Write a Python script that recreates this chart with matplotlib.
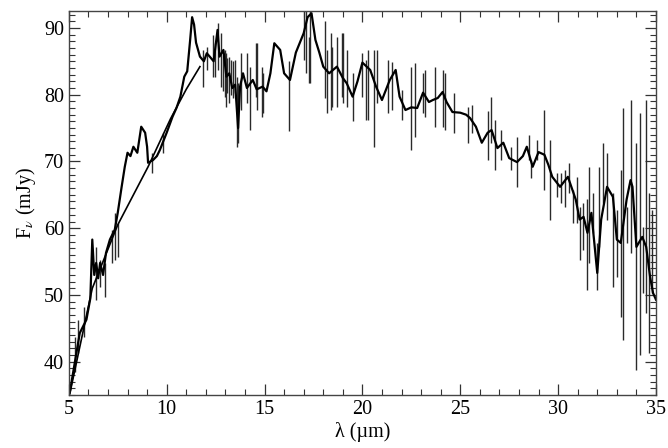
import matplotlib
matplotlib.use("Agg")
import matplotlib.pyplot as plt
from matplotlib.ticker import MultipleLocator

# spectrum: wavelength (um) and flux (mJy)
wl = [5.05, 5.3, 5.56, 5.9, 6.1, 6.2, 6.3, 6.4, 6.5, 6.6, 6.75, 6.9, 7.1, 7.35, 7.5,
      7.7, 7.86, 8.0, 8.15, 8.3, 8.5, 8.7, 8.9, 9.0, 9.05, 9.3, 9.5, 9.65, 9.8, 10.0,
      10.3, 10.5, 10.7, 10.9, 11.05, 11.2, 11.3, 11.4, 11.5, 11.7, 11.9, 12.05, 12.2,
      12.4, 12.6, 12.7, 12.9, 13.05, 13.2, 13.35, 13.5, 13.65, 13.75, 13.9, 14.1, 14.4,
      14.6, 14.9, 15.1, 15.3, 15.5, 15.8, 16.0, 16.3, 16.6, 17.0, 17.2, 17.4, 17.6,
      17.8, 18.0, 18.3, 18.7, 19.0, 19.2, 19.5, 19.75, 20.0, 20.4, 20.7, 21.0, 21.4,
      21.7, 21.9, 22.2, 22.5, 22.8, 23.1, 23.4, 23.6, 23.85, 24.1, 24.3, 24.6, 25.0,
      25.3, 25.5, 25.8, 26.1, 26.4, 26.6, 26.9, 27.2, 27.5, 27.9, 28.2, 28.4, 28.7,
      29.0, 29.3, 29.5, 29.7, 30.1, 30.5, 30.9, 31.1, 31.3, 31.5, 31.7, 32.0, 32.2,
      32.5, 32.8, 33.0, 33.2, 33.5, 33.7, 33.8, 34.0, 34.3, 34.5, 34.7, 34.85, 35.0]
flux = [35.4, 39.8, 44.3, 46.3, 49.5, 58.3, 53.0, 54.8, 52.5, 54.8, 53.0, 56.3, 58.3, 59.8, 62.3,
        66.2, 69.2, 71.3, 70.8, 72.2, 71.3, 75.2, 74.3, 72.2, 69.8, 70.2, 70.8, 71.7, 72.8, 74.3,
        76.7, 78.0, 79.7, 82.7, 83.5, 88.2, 91.6, 90.5, 87.8, 85.7, 85.0, 86.2, 85.7,
        85.0, 89.7, 85.7, 86.7, 82.7, 83.2, 81.0, 81.5, 75.0, 81.2, 83.2, 81.0, 82.2,
        80.8, 81.2, 80.5, 83.2, 87.7, 86.7, 83.2, 82.2, 86.3, 89.2, 91.6, 92.2, 88.2,
        86.3, 84.2, 83.2, 84.2, 82.5, 81.7, 79.7, 82.0, 84.8, 83.7, 81.2, 79.2, 82.2,
        83.7, 79.7, 77.7, 78.1, 78.0, 80.3, 78.9, 79.2, 79.5, 80.4, 78.9, 77.4, 77.3,
        77.0, 76.5, 75.2, 72.8, 74.3, 74.7, 72.0, 72.8, 70.5, 69.9, 70.8, 72.2, 69.2,
        71.4, 71.0, 69.5, 67.7, 66.2, 67.7, 64.3, 61.3, 61.7, 59.3, 62.3, 53.3, 61.3,
        66.2, 64.7, 58.3, 57.8, 64.3, 67.2, 66.2, 57.2, 58.7, 57.2, 52.7, 50.3, 49.3]

# error bars: wavelength, lower and upper flux
bar_wl = [5.3, 5.46, 5.8, 6.4, 6.6, 6.85, 7.2, 7.35, 7.5, 9.24, 9.8, 11.85, 12.05, 12.35,
          12.46, 12.6, 12.8, 12.9, 13.0, 13.05, 13.1, 13.2, 13.3, 13.4, 13.5, 13.6, 13.65,
          13.8, 14.1, 14.25, 14.55,
          14.6, 14.85, 14.9, 16.25, 17.0, 17.1, 17.25, 17.3, 18.1, 18.2, 18.4, 18.45,
          18.7, 18.95, 19.0, 19.2, 19.5, 20.0, 20.2, 20.3, 20.6, 20.75, 21.3, 21.5, 22.0,
          22.5, 22.7, 23.1, 23.2, 23.7, 24.1, 24.2, 24.7, 25.4, 25.6, 26.4, 26.55, 26.8,
          27.1, 27.6, 27.9, 28.5, 28.6, 28.9, 29.3, 29.6, 29.95, 30.15, 30.35, 30.55,
          30.75, 30.95, 31.1, 31.25, 31.5, 31.6, 31.8, 32.0, 32.1, 32.3, 32.5, 32.8,
          33.0, 33.2, 33.3, 33.5, 33.7, 34.0, 34.2, 34.35, 34.5, 34.65, 34.8]
bar_lo = [38.4, 41.3, 43.7, 49.3, 51.2, 49.7, 54.8, 55.3, 55.7, 68.3, 71.3, 81.2, 83.7, 82.7,
          82.7, 83.7, 81.2, 80.5, 79.7, 78.2, 80.3, 78.8, 80.0, 79.5, 80.3, 72.2, 72.8,
          77.7, 78.8, 74.7, 79.7,
          77.7, 76.7, 77.3, 74.5, 85.2, 83.2, 81.8, 81.8, 79.5, 77.3, 77.7, 78.2,
          78.2, 79.7, 78.8, 78.2, 76.0, 79.7, 76.2, 76.2, 72.2, 78.8, 77.3, 77.7, 76.2,
          71.7, 73.7, 77.3, 76.7, 75.2, 75.2, 74.7, 74.3, 72.8, 74.3, 70.2, 72.8, 68.7,
          70.2, 68.7, 66.2, 70.2, 67.5, 70.2, 65.7, 61.3, 64.7, 63.8, 63.2, 65.3,
          60.8, 60.8, 55.3, 56.8, 50.8, 54.8, 59.3, 50.8, 57.2, 63.8, 61.3, 51.2,
          52.7, 46.7, 43.3, 57.8, 56.3, 38.8, 41.0, 50.3, 47.3, 41.3, 50.3]
bar_hi = [43.7, 46.3, 48.2, 57.2, 55.3, 54.8, 59.8, 62.3, 60.8, 71.3, 74.3, 86.7, 87.2, 89.0,
          87.8, 90.7, 89.2, 86.0, 86.7, 86.3, 85.5, 85.7, 85.2, 85.0, 85.2, 82.7, 81.8,
          86.3, 86.3, 84.2, 87.8,
          87.8, 84.2, 83.2, 85.0, 92.7, 92.7, 88.7, 92.7, 91.0, 86.7, 89.2, 87.2,
          88.7, 89.2, 89.2, 86.7, 83.2, 86.3, 85.2, 86.7, 86.7, 86.7, 85.2, 84.9, 80.7,
          84.2, 84.8, 83.2, 83.7, 84.2, 83.7, 83.2, 80.3, 78.2, 78.5, 77.6, 79.7, 76.2,
          74.7, 72.2, 73.7, 74.0, 70.2, 73.2, 77.7, 73.2, 68.3, 68.3, 68.7, 69.8,
          65.7, 67.7, 63.2, 63.8, 64.3, 69.2, 65.3, 57.8, 69.2, 72.8, 71.3, 65.3,
          62.8, 68.7, 78.0, 63.2, 79.2, 72.8, 77.3, 60.2, 79.2, 65.3, 62.8]

# smooth continuum under the 5-12 um part
cont_wl = [5.05, 6.2, 7.5, 9.05, 10.2, 11.0, 11.7]
cont_flux = [35.2, 51.0, 60.5, 69.2, 76.4, 80.8, 84.2]

plt.rcParams['font.family'] = ['Liberation Serif', 'DejaVu Serif']
plt.rcParams['mathtext.fontset'] = 'stix'

fig = plt.figure(figsize=(6.68, 4.48), dpi=100)
ax = fig.add_axes([0.103, 0.118, 0.879, 0.857])

ax.vlines(bar_wl, bar_lo, bar_hi, color='#2a2a2a', lw=1.0)
ax.plot(wl, flux, color='black', lw=1.6)
ax.plot(cont_wl, cont_flux, color='black', lw=1.2)

ax.set_xlim(5, 35)
ax.set_ylim(35, 92.5)
ax.xaxis.set_major_locator(MultipleLocator(5))
ax.xaxis.set_minor_locator(MultipleLocator(1))
ax.yaxis.set_major_locator(MultipleLocator(10))
ax.yaxis.set_minor_locator(MultipleLocator(1))
ax.tick_params(which='both', direction='in', top=True, right=True, colors='#333333',
               labelcolor='black', labelsize=14.5)
ax.tick_params(which='major', length=8, width=0.9)
ax.tick_params(which='minor', length=4, width=0.8)
for s in ax.spines.values():
    s.set_color('#444444')
    s.set_linewidth(1.0)

ax.set_xlabel('λ (µm)', fontsize=14.5, labelpad=2)
ax.set_ylabel('F$_\\nu$ (mJy)', fontsize=14.5, labelpad=4)

fig.savefig('out.png', dpi=100)
